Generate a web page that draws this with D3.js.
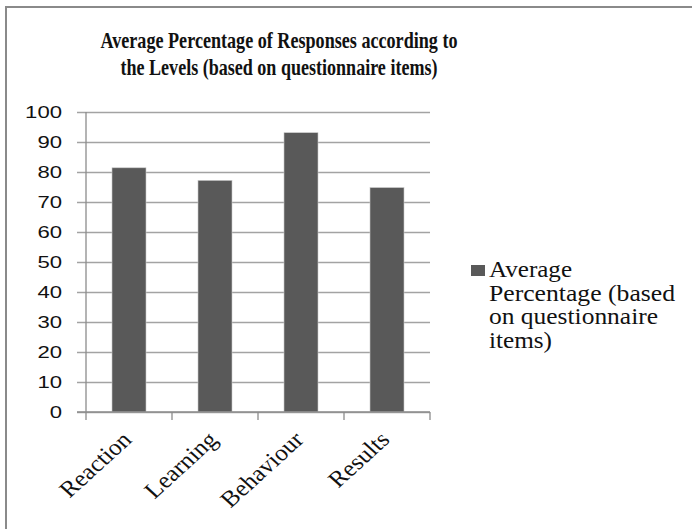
<!DOCTYPE html>
<html>
<head>
<meta charset="utf-8">
<script src="https://cdn.jsdelivr.net/npm/d3@7"></script>
<style>
  html, body { margin: 0; padding: 0; background: #fff; }
  svg { display: block; }
</style>
</head>
<body>
<script>
const categories = ["Reaction", "Learning", "Behaviour", "Results"];
const values = [81.4, 77.2, 93.1, 74.8];
const yTicks = [0, 10, 20, 30, 40, 50, 60, 70, 80, 90, 100];
const titleLines = ["Average Percentage of Responses according to", "the Levels (based on questionnaire items)"];
const legendLines = ["Average", "Percentage (based", "on questionnaire", "items)"];

const W = 692, H = 529;
const svg = d3.select("body").append("svg").attr("width", W).attr("height", H);

// outer border (top and left visible)
svg.append("path")
  .attr("d", `M6,${H} V7 H${W}`)
  .attr("fill", "none").attr("stroke", "#8a8a8a").attr("stroke-width", 2);

const plot = { left: 86, right: 430, top: 112, bottom: 412 };
const x = d3.scaleBand().domain(categories).range([plot.left, plot.right]).paddingInner(0).paddingOuter(0);
const y = d3.scaleLinear().domain([0, 100]).range([plot.bottom, plot.top]);

// title
const titleWidths = [357, 317];
titleLines.forEach((t, i) => {
  svg.append("text")
    .attr("x", 279).attr("y", 48 + i * 27)
    .attr("text-anchor", "middle")
    .attr("font-family", "'Liberation Serif', 'Times New Roman', serif")
    .attr("font-weight", "bold").attr("font-size", 23.5)
    .attr("fill", "#111")
    .attr("textLength", titleWidths[i]).attr("lengthAdjust", "spacingAndGlyphs")
    .text(t);
});

// gridlines + y ticks
const yAxis = d3.axisLeft(y).tickValues(yTicks).tickSize(-(plot.right - plot.left)).tickFormat("");
const gy = svg.append("g").attr("transform", `translate(${plot.left},0)`).call(yAxis);
gy.select(".domain").remove();
gy.selectAll(".tick line").attr("x1", -9).attr("stroke", "#a3a3a3").attr("stroke-width", 1.3);

// y labels
svg.append("g").selectAll("text").data(yTicks).join("text")
  .attr("x", 62).attr("y", d => y(d)).attr("dy", "0.37em")
  .attr("text-anchor", "end")
  .attr("font-family", "'Liberation Sans', Arial, sans-serif")
  .attr("font-size", 16.5).attr("fill", "#111")
  .attr("textLength", d => String(d).length * 12.3).attr("lengthAdjust", "spacingAndGlyphs")
  .text(d => d);

// bars
const barW = 34;
svg.append("g").selectAll("rect").data(categories).join("rect")
  .attr("x", d => x(d) + x.bandwidth() / 2 - barW / 2)
  .attr("y", (d, i) => y(values[i]))
  .attr("width", barW)
  .attr("height", (d, i) => y(0) - y(values[i]))
  .attr("fill", "#595959")
  .attr("stroke", "#c8c8c8").attr("stroke-width", 0.6);

// y axis line
svg.append("line")
  .attr("x1", plot.left).attr("x2", plot.left)
  .attr("y1", plot.top).attr("y2", plot.bottom)
  .attr("stroke", "#8c8c8c").attr("stroke-width", 1.3);

// x axis line and ticks at band boundaries
const bounds = categories.map(c => x(c)).concat([plot.right]);
svg.append("line")
  .attr("x1", plot.left - 9).attr("x2", plot.right)
  .attr("y1", plot.bottom).attr("y2", plot.bottom)
  .attr("stroke", "#8c8c8c").attr("stroke-width", 1.3);
svg.append("g").selectAll("line").data(bounds).join("line")
  .attr("x1", d => d).attr("x2", d => d)
  .attr("y1", plot.bottom).attr("y2", plot.bottom + 8)
  .attr("stroke", "#8c8c8c").attr("stroke-width", 1.3);

// category labels
svg.append("g").selectAll("text").data(categories).join("text")
  .attr("transform", d => `translate(${x(d) + x.bandwidth() / 2 + 4},${plot.bottom + 29}) scale(1.1,1) rotate(-45)`)
  .attr("text-anchor", "end")
  .attr("font-family", "'Liberation Serif', 'Times New Roman', serif")
  .attr("font-size", 23).attr("fill", "#111")
  .text(d => d);

// legend
svg.append("rect")
  .attr("x", 471).attr("y", 265).attr("width", 14).attr("height", 11)
  .attr("fill", "#595959");
const legendWidths = [83, 186, 169, 63];
legendLines.forEach((t, i) => {
  svg.append("text")
    .attr("x", 489).attr("y", 277 + i * 23.5)
    .attr("font-family", "'Liberation Serif', 'Times New Roman', serif")
    .attr("font-size", 23).attr("fill", "#111")
    .attr("textLength", legendWidths[i]).attr("lengthAdjust", "spacingAndGlyphs")
    .text(t);
});
</script>
</body>
</html>
